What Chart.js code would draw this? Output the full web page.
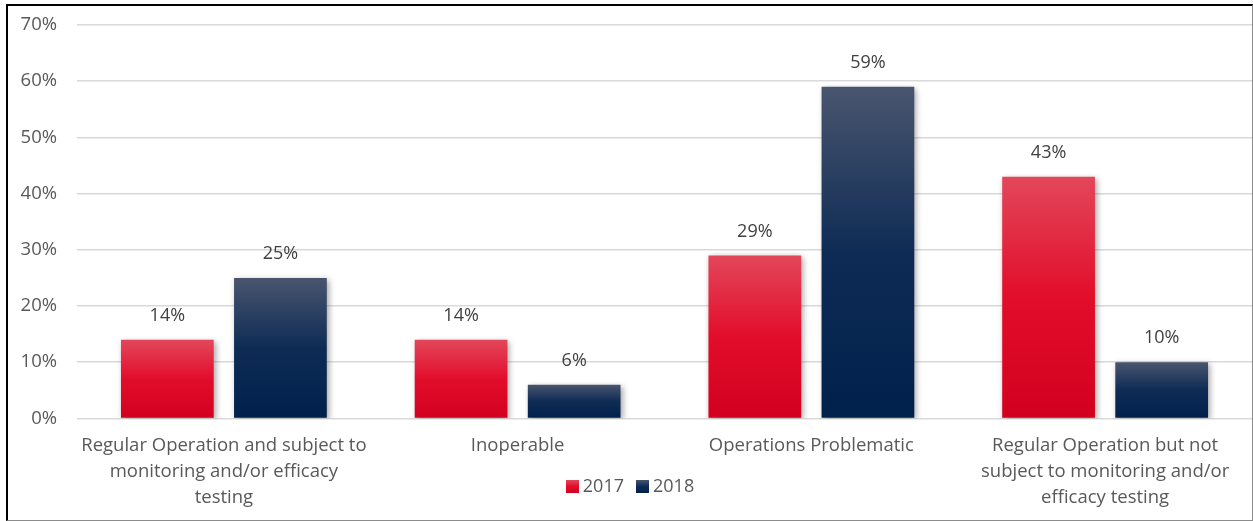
<!DOCTYPE html>
<html>
<head>
<meta charset="utf-8">
<script src="https://cdn.jsdelivr.net/npm/chart.js@4"></script>
<style>
    body { margin: 0; background: #fff; }
    #frame {
        position: absolute; left: 6px; top: 4px; width: 1244px; height: 514px;
        border-left: 2px solid #000; border-top: 2px solid #000;
        border-right: 1px solid #8c8c8c; border-bottom: 1px solid #8c8c8c;
    }
    #frame canvas { position: absolute; left: 0; top: 0; }
    #legend {
        position: absolute; left: 0; right: 0; top: 467px; text-align: center;
        font-family: "Open Sans", sans-serif; font-size: 18px; color: #595959;
    }
    #legend span.item { margin: 0 6px; }
    #legend span.box { display: inline-block; width: 13px; height: 13px; margin-right: 4px; vertical-align: -1px; }
</style>
</head>
<body>
<div id="frame">
    <canvas id="bar-chart" width="1244" height="514"></canvas>
    <div id="legend"></div>
</div>
<script>
/// ------------- DATA --------------- ///

const categories = [
    ["Regular Operation and subject to", "monitoring and/or efficacy", "testing"],
    "Inoperable",
    "Operations Problematic",
    ["Regular Operation but not", "subject to monitoring and/or", "efficacy testing"]
];
const seriesNames = ["2017", "2018"];
const values2017 = [14, 14, 29, 43];
const values2018 = [25, 6, 59, 10];
const yTicks = [0, 10, 20, 30, 40, 50, 60, 70];

/// ------------- STYLE --------------- ///

const redStops = ["#e3475a", "#e20d2b", "#d2001f"];
const blueStops = ["#49556e", "#0e2b55", "#00214c"];
const fontFamily = '"Open Sans", sans-serif';

function barGradient(context, stops) {
    const chart = context.chart;
    if (!chart.chartArea) return stops[1];
    const y = chart.scales.y;
    const top = y.getPixelForValue(context.raw);
    const bottom = y.getPixelForValue(0);
    const g = chart.ctx.createLinearGradient(0, top, 0, bottom);
    g.addColorStop(0, stops[0]);
    g.addColorStop(0.5, stops[1]);
    g.addColorStop(1, stops[2]);
    return g;
}

const barExtras = {
    id: "barExtras",
    beforeDatasetsDraw(chart) {
        const ctx = chart.ctx;
        ctx.save();
        ctx.shadowColor = "rgba(0,0,0,0.35)";
        ctx.shadowBlur = 6;
        ctx.shadowOffsetX = 2;
        ctx.shadowOffsetY = 2;
    },
    afterDatasetsDraw(chart) {
        const ctx = chart.ctx;
        ctx.restore();
        ctx.save();
        ctx.font = "18px " + fontFamily;
        ctx.fillStyle = "#404040";
        ctx.textAlign = "center";
        ctx.textBaseline = "bottom";
        chart.data.datasets.forEach((ds, i) => {
            chart.getDatasetMeta(i).data.forEach((bar, j) => {
                ctx.fillText(ds.data[j] + "%", bar.x, bar.y - 15);
            });
        });
        ctx.restore();
    }
};

function noScalePadding(scale) {
    scale.paddingLeft = 0;
    scale.paddingRight = 0;
    scale.paddingTop = 0;
    scale.paddingBottom = 0;
}

/// ------------- CHART --------------- ///

new Chart(document.getElementById("bar-chart"), {
    type: "bar",
    data: {
        labels: categories,
        datasets: [
            {
                label: seriesNames[0],
                data: values2017,
                backgroundColor: c => barGradient(c, redStops)
            },
            {
                label: seriesNames[1],
                data: values2018,
                backgroundColor: c => barGradient(c, blueStops)
            }
        ]
    },
    options: {
        responsive: false,
        animation: false,
        datasets: {
            bar: { categoryPercentage: 0.77, barPercentage: 0.82 }
        },
        layout: { padding: { top: 19, right: 0, bottom: 3, left: 10 } },
        plugins: {
            legend: { display: false },
            tooltip: { enabled: false }
        },
        scales: {
            x: {
                afterFit: noScalePadding,
                grid: { display: false },
                border: { display: false },
                ticks: {
                    autoSkip: false,
                    color: "#595959",
                    font: { family: fontFamily, size: 18.5, lineHeight: 1.38 },
                    maxRotation: 0,
                    padding: 7
                }
            },
            y: {
                min: 0,
                max: 70,
                afterFit: scale => {
                    noScalePadding(scale);
                    scale.width = 59;
                },
                afterBuildTicks: axis => {
                    axis.ticks = yTicks.map(v => ({ value: v }));
                },
                grid: { color: "#d9d9d9", lineWidth: 1.5, drawTicks: false },
                border: { display: false },
                ticks: {
                    color: "#595959",
                    font: { family: fontFamily, size: 18.5 },
                    padding: 20,
                    callback: v => v + "%"
                }
            }
        }
    },
    plugins: [barExtras]
});

const legend = document.getElementById("legend");
legend.innerHTML = seriesNames.map((name, i) => {
    const stops = i === 0 ? redStops : blueStops;
    return '<span class="item"><span class="box" style="background:linear-gradient(' +
        stops.join(",") + ')"></span>' + name + '</span>';
}).join("");
</script>
</body>
</html>
